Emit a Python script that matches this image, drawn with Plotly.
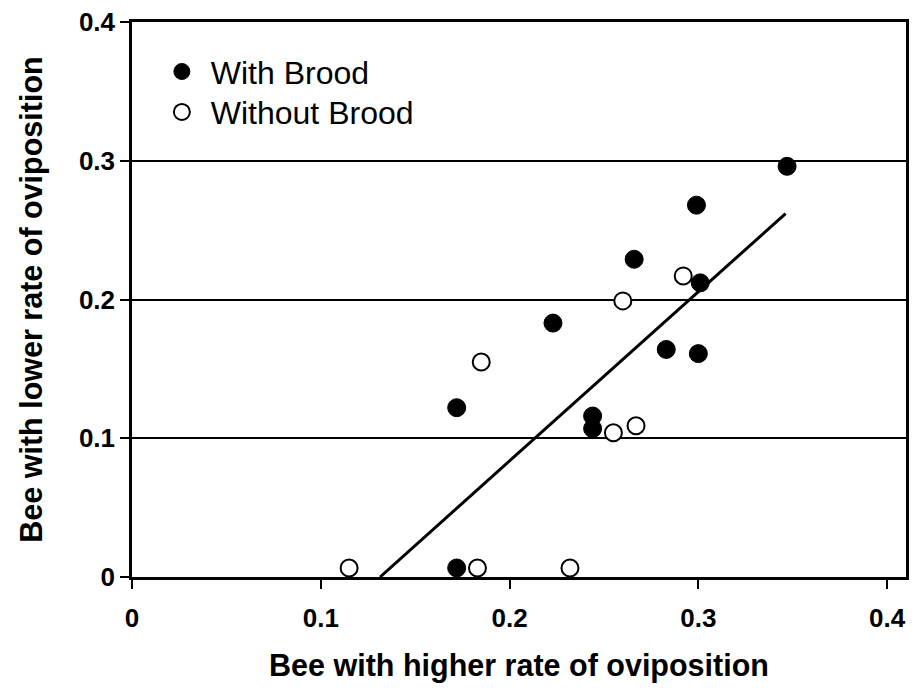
import plotly.graph_objects as go

# Oviposition rates for pairs of bees (higher-rate bee vs lower-rate bee)
with_brood_x = [0.347, 0.299, 0.266, 0.301, 0.223, 0.283, 0.300, 0.172, 0.244, 0.244, 0.172]
with_brood_y = [0.296, 0.268, 0.229, 0.212, 0.183, 0.164, 0.161, 0.122, 0.116, 0.107, 0.0065]

without_brood_x = [0.115, 0.183, 0.232, 0.185, 0.260, 0.292, 0.255, 0.267]
without_brood_y = [0.0065, 0.0065, 0.0065, 0.155, 0.199, 0.217, 0.104, 0.109]

# Fitted regression line endpoints
fit_x = [0.1314, 0.3462]
fit_y = [0.0, 0.2619]

tick_vals = [0, 0.1, 0.2, 0.3, 0.4]
tick_text = ["0", "0.1", "0.2", "0.3", "0.4"]

FONT = "Liberation Sans, Arial, sans-serif"
LEGEND_FONT = dict(family=FONT, size=32, color="black")

fig = go.Figure()

fig.add_trace(go.Scatter(
    x=fit_x, y=fit_y, mode="lines",
    line=dict(color="black", width=3),
    showlegend=False, hoverinfo="skip",
))

fig.add_trace(go.Scatter(
    x=with_brood_x, y=with_brood_y, mode="markers",
    name=" With Brood", legend="legend",
    marker=dict(symbol="circle", size=18, color="black",
                line=dict(color="black", width=1)),
    cliponaxis=False,
))

fig.add_trace(go.Scatter(
    x=without_brood_x, y=without_brood_y, mode="markers",
    name=" Without Brood", legend="legend2",
    marker=dict(symbol="circle", size=17, color="white",
                line=dict(color="black", width=2)),
    cliponaxis=False,
))

fig.update_layout(
    width=915, height=690,
    margin=dict(l=132, r=6, t=22, b=113),
    paper_bgcolor="white", plot_bgcolor="white",
    font=dict(family=FONT, color="black"),
    legend=dict(
        x=0.0386, y=0.9105, xanchor="left", yanchor="middle",
        font=LEGEND_FONT, bgcolor="rgba(0,0,0,0)", borderwidth=0,
        itemsizing="trace",
    ),
    legend2=dict(
        x=0.0386, y=0.8375, xanchor="left", yanchor="middle",
        font=LEGEND_FONT, bgcolor="rgba(0,0,0,0)", borderwidth=0,
        itemsizing="trace",
    ),
    xaxis=dict(
        range=[0, 0.41],
        tickvals=tick_vals, ticktext=tick_text,
        ticks="outside", ticklen=9, tickwidth=2, tickcolor="black",
        ticklabelstandoff=7,
        showline=True, linecolor="black", linewidth=2.5, mirror=True,
        showgrid=False, zeroline=False,
        tickfont=dict(family=FONT, size=26, color="black", weight="bold"),
        title=dict(text="<b>Bee with higher rate of oviposition</b>",
                   font=dict(family=FONT, size=30.5, color="black"),
                   standoff=23),
    ),
    yaxis=dict(
        range=[0, 0.4],
        tickvals=tick_vals, ticktext=tick_text,
        ticks="outside", ticklen=9, tickwidth=2, tickcolor="black",
        showline=True, linecolor="black", linewidth=2.5, mirror=True,
        showgrid=True, gridcolor="black", gridwidth=1.8,
        zeroline=False,
        tickfont=dict(family=FONT, size=26, color="black", weight="bold"),
        title=dict(text="<b>Bee with lower rate of oviposition</b>",
                   font=dict(family=FONT, size=30.5, color="black"),
                   standoff=28),
    ),
)

fig.write_html("out.html")
